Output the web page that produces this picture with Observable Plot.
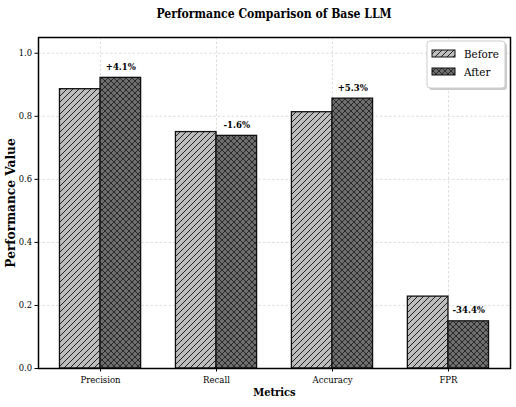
<!DOCTYPE html>
<html>
<head>
<meta charset="utf-8">
<script src="https://cdn.jsdelivr.net/npm/d3@7"></script>
<script src="https://cdn.jsdelivr.net/npm/@observablehq/plot@0.6"></script>
<style>
  body { margin: 0; background: #fff; font-family: "DejaVu Serif Condensed", "DejaVu Serif", serif; font-stretch: condensed; }
  #wrap { position: relative; width: 516px; height: 407px; }
  #title {
    height: 30px; line-height: 28px; box-sizing: border-box;
    padding-left: 38px; padding-right: 6px; text-align: center;
    font-weight: bold; font-size: 12.1px; color: #000;
  }
  svg text { font-stretch: condensed; }
</style>
</head>
<body>
<div id="wrap">
  <div id="title">Performance Comparison of Base LLM</div>
  <div id="chart"></div>
</div>
<script>
// Metric scores of the base LLM before and after the change
const metrics = ["Precision", "Recall", "Accuracy", "FPR"];
const before = [0.886, 0.750, 0.813, 0.228];
const after = [0.922, 0.738, 0.856, 0.1496];
const changeLabels = ["+4.1%", "-1.6%", "+5.3%", "-34.4%"];
const yTicks = [0, 0.2, 0.4, 0.6, 0.8, 1.0];
const seriesNames = ["Before", "After"];

const barWidth = 0.35;
const rows = metrics.map((m, i) => ({
  i, metric: m, before: before[i], after: after[i], change: changeLabels[i]
}));
const xTicks = metrics.map((_, i) => i);

const fontFamily = "'DejaVu Serif Condensed', 'DejaVu Serif', serif";
const gridStyle = { stroke: "#cfcfcf", strokeDasharray: "2.5,2", strokeWidth: 0.7, strokeOpacity: 1 };

const chart = Plot.plot({
  width: 516,
  height: 377,
  marginTop: 7,
  marginBottom: 39,
  marginLeft: 38,
  marginRight: 6,
  style: { fontFamily, fontSize: "9px", background: "white", color: "#000" },
  x: { type: "linear", domain: [-0.535, 3.535] },
  y: { domain: [0, 1.05] },
  marks: [
    Plot.gridY(yTicks, gridStyle),
    Plot.gridX(xTicks, gridStyle),
    Plot.rectY(rows, {
      x1: d => d.i - barWidth, x2: d => d.i, y: "before",
      fill: "url(#hatch-before)", stroke: "#111", strokeWidth: 1.3
    }),
    Plot.rectY(rows, {
      x1: d => d.i, x2: d => d.i + barWidth, y: "after",
      fill: "url(#hatch-after)", stroke: "#111", strokeWidth: 1.3
    }),
    Plot.text(rows, {
      x: d => d.i + barWidth / 2, y: "after", text: "change",
      dy: -11, fontWeight: "bold", fontSize: 9.5, fill: "#000"
    }),
    Plot.frame({ stroke: "#000", strokeWidth: 1.5 }),
    Plot.axisY(yTicks, {
      tickFormat: d3.format(".1f"), tickSize: 3.5, tickPadding: 3, label: null, fontSize: 9.3
    }),
    Plot.axisX(xTicks, {
      tickFormat: i => metrics[i], tickSize: 3.5, tickPadding: 4, label: null, fontSize: 9.5
    }),
    Plot.text(["Metrics"], {
      frameAnchor: "bottom", dy: 27, fontWeight: "bold", fontSize: 11, fill: "#000"
    }),
    Plot.text(["Performance Value"], {
      frameAnchor: "left", textAnchor: "middle", dx: -27, rotate: -90, fontWeight: "bold",
      fontSize: 12.2, fill: "#000", className: "ylabel"
    })
  ]
});

document.getElementById("chart").appendChild(chart);

const svg = d3.select(chart);
// The vertical axis title uses the regular-width face
svg.selectAll(".ylabel, .ylabel text").style("font-stretch", "normal").style("font-family", "'DejaVu Serif', serif");

// Hatch patterns for the two series
const defs = svg.insert("defs", ":first-child");
const pb = defs.append("pattern").attr("id", "hatch-before")
  .attr("patternUnits", "userSpaceOnUse").attr("width", 6).attr("height", 6);
pb.append("rect").attr("width", 6).attr("height", 6).attr("fill", "#bdbdbd");
pb.append("path").attr("d", "M0,6L6,0M-1,1L1,-1M5,7L7,5")
  .attr("stroke", "#222").attr("stroke-width", 1);
const pa = defs.append("pattern").attr("id", "hatch-after")
  .attr("patternUnits", "userSpaceOnUse").attr("width", 6).attr("height", 6);
pa.append("rect").attr("width", 6).attr("height", 6).attr("fill", "#6e6e6e");
pa.append("path").attr("d", "M0,6L6,0M-1,1L1,-1M5,7L7,5M0,0L6,6M-1,5L1,7M5,-1L7,1")
  .attr("stroke", "#222").attr("stroke-width", 0.9);

// Legend box in the upper right corner
const lg = svg.append("g").attr("transform", "translate(427,11)");
lg.append("rect").attr("x", 2).attr("y", 2).attr("width", 78).attr("height", 47)
  .attr("rx", 3).attr("fill", "#999").attr("fill-opacity", 0.5);
lg.append("rect").attr("width", 78).attr("height", 47).attr("rx", 3)
  .attr("fill", "#fff").attr("stroke", "#ccc").attr("stroke-width", 1);
seriesNames.forEach((name, k) => {
  const y = 9 + k * 18;
  lg.append("rect").attr("x", 5).attr("y", y).attr("width", 23).attr("height", 7)
    .attr("fill", k === 0 ? "url(#hatch-before)" : "url(#hatch-after)")
    .attr("stroke", "#111").attr("stroke-width", 1);
  lg.append("text").attr("x", 37).attr("y", y + 3.5).attr("dy", "0.35em")
    .attr("text-anchor", "start")
    .attr("font-size", 11.5).attr("font-family", fontFamily).attr("fill", "#000")
    .text(name);
});
</script>
</body>
</html>
